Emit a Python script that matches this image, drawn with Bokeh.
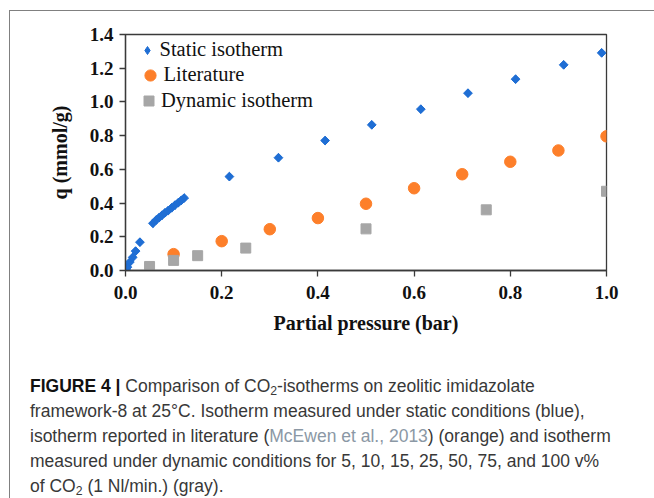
import math
from bokeh.plotting import figure
from bokeh.models import FixedTicker, Legend, LegendItem, Div, Range1d
from bokeh.layouts import column
from bokeh.embed import file_html
from bokeh.resources import INLINE

# ---- data ----
static_p = [0.001, 0.004, 0.009, 0.015, 0.021, 0.030, 0.057, 0.064, 0.070, 0.076,
            0.082, 0.089, 0.096, 0.103, 0.110, 0.116, 0.122, 0.216, 0.318, 0.415,
            0.512, 0.614, 0.712, 0.811, 0.911, 0.990]
static_q = [0.005, 0.020, 0.050, 0.078, 0.115, 0.168, 0.280, 0.300, 0.314, 0.328,
            0.342, 0.356, 0.372, 0.388, 0.403, 0.416, 0.430, 0.557, 0.669, 0.771,
            0.864, 0.957, 1.052, 1.135, 1.220, 1.291]

lit_p = [0.1, 0.2, 0.3, 0.4, 0.5, 0.6, 0.7, 0.8, 0.9, 1.0]
lit_q = [0.097, 0.174, 0.245, 0.311, 0.396, 0.488, 0.571, 0.645, 0.712, 0.796]

dyn_p = [0.05, 0.10, 0.15, 0.25, 0.50, 0.75, 1.00]
dyn_q = [0.024, 0.060, 0.088, 0.133, 0.247, 0.360, 0.470]

x_ticks = [0.0, 0.2, 0.4, 0.6, 0.8, 1.0]
x_tick_labels = ["0.0", "0.2", "0.4", "0.6", "0.8", "1.0"]
y_ticks = [0.0, 0.2, 0.4, 0.6, 0.8, 1.0, 1.2, 1.4]
y_tick_labels = ["0.0", "0.2", "0.4", "0.6", "0.8", "1.0", "1.2", "1.4"]

series_labels = ["Static isotherm", "Literature", "Dynamic isotherm"]
x_title = "Partial pressure (bar)"
y_title = "q (mmol/g)"

SERIF = "Liberation Serif"
AX = "#3a3a3a"
BLUE, ORANGE, GREY = "#1f6ed4", "#fd7f2a", "#a6a6a6"

p = figure(width=644, height=334, output_backend="svg", toolbar_location=None,
           x_range=Range1d(0, 1), y_range=Range1d(0, 1.4),
           min_border_left=115, min_border_right=48,
           min_border_top=23, min_border_bottom=75)
p.grid.visible = False
p.background_fill_color = "white"
p.border_fill_color = "white"
p.outline_line_color = AX
p.outline_line_width = 1.3

for ax, ticks, labels in ((p.xaxis[0], x_ticks, x_tick_labels), (p.yaxis[0], y_ticks, y_tick_labels)):
    ax.ticker = FixedTicker(ticks=ticks)
    ax.major_label_overrides = {t: l for t, l in zip(ticks, labels)}
    ax.minor_tick_line_color = None
    ax.major_tick_in = 0
    ax.major_tick_out = 6
    ax.major_tick_line_color = AX
    ax.major_tick_line_width = 1.3
    ax.axis_line_color = AX
    ax.axis_line_width = 1.3
    ax.major_label_text_font = SERIF
    ax.major_label_text_font_style = "bold"
    ax.major_label_text_font_size = "19px"
    ax.major_label_text_color = "#111111"
    ax.axis_label_text_font = SERIF
    ax.axis_label_text_font_style = "bold"
    ax.axis_label_text_font_size = "20px"
    ax.axis_label_text_color = "#111111"

p.xaxis[0].axis_label = x_title
p.yaxis[0].axis_label = y_title
p.xaxis[0].major_label_standoff = 9
p.yaxis[0].major_label_standoff = 6
p.xaxis[0].axis_label_standoff = 10
p.yaxis[0].axis_label_standoff = 16

# diamond-shaped key renderer, fully hidden under the rotated squares (used for the legend swatch)
r_static_key = p.scatter(static_p, static_q, marker="diamond", size=8,
                         fill_color=BLUE, line_color=BLUE)
r_static = p.scatter(static_p, static_q, marker="square", angle=math.pi / 4, size=6.2,
                     fill_color=BLUE, line_color=BLUE)
r_lit = p.scatter(lit_p, lit_q, marker="circle", size=11.5,
                  fill_color=ORANGE, line_color=ORANGE)
r_dyn = p.scatter(dyn_p, dyn_q, marker="square", size=10,
                  fill_color=GREY, line_color=GREY)

legend_specs = [
    (series_labels[0], r_static_key, (11.5, 209), 20, 3),
    (series_labels[1], r_lit, (10.5, 181.5), 28, -4),
    (series_labels[2], r_dyn, (11, 157.5), 25, 0),
]
for lab, rend, loc, gsz, stand in legend_specs:
    lg = Legend(items=[LegendItem(label=lab, renderers=[rend])], location=loc,
                glyph_width=gsz, glyph_height=gsz, label_standoff=stand,
                padding=0, margin=0, spacing=0, label_height=20,
                border_line_color=None, background_fill_alpha=0,
                label_text_font=SERIF, label_text_font_size="20.5px",
                label_text_color="#111111")
    p.add_layout(lg)

sub = '<sub style="font-size:0.7em;line-height:0;vertical-align:-0.25em">2</sub>'
caption_html = f"""
<div style="font-family:'Liberation Sans',Arial,sans-serif; font-size:17.5px; line-height:25px;
 color:#383838; padding:24px 0 0 15px; white-space:nowrap;">
<b style="color:#111111">FIGURE 4 |</b> Comparison of CO{sub}-isotherms on zeolitic imidazolate<br>
framework-8 at 25°C. Isotherm measured under static conditions (blue),<br>
isotherm reported in literature (<span style="color:#8b98a5">McEwen et al., 2013</span>) (orange) and isotherm<br>
measured under dynamic conditions for 5, 10, 15, 25, 50, 75, and 100 v%<br>
of CO{sub} (1 Nl/min.) (gray).
</div>
"""
caption = Div(text=caption_html, width=644, height=153)

layout = column(p, caption, margin=(10, 0, 0, 9),
                styles={"border-top": "1px solid #808080", "border-left": "1px solid #808080"})

open("out.html", "w").write(file_html(layout, INLINE))
